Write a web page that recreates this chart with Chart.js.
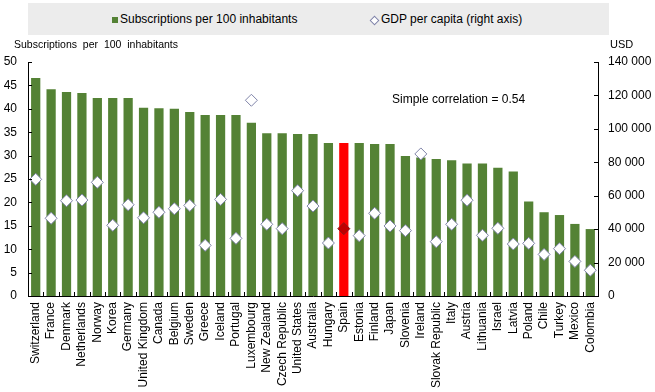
<!DOCTYPE html>
<html>
<head>
<meta charset="utf-8">
<script src="https://cdn.jsdelivr.net/npm/chart.js@4.4.0/dist/chart.umd.min.js"></script>
<style>
    body { margin: 0; background: #fff; }
    #wrap { position: relative; width: 655px; height: 392px; }
    #legend {
        position: absolute; left: 28px; top: 3px; width: 581px; height: 32px;
        background: #ececec; font: 12px "Liberation Sans", Arial, sans-serif; color: #000;
    }
    #legend span { position: absolute; top: 9px; white-space: nowrap; }
    .sq { position: absolute; left: 84px; top: 14px; width: 6px; height: 6px; background: #548235; }
    .dm { position: absolute; left: 343px; top: 14px; width: 5px; height: 5px; border: 1px solid #7f83a8; transform: rotate(45deg); background: #fff; }
</style>
</head>
<body>
<div id="wrap">
    <canvas id="chart" width="655" height="392"></canvas>
    <div id="legend">
        <div class="sq"></div><span style="left:92px">Subscriptions per 100 inhabitants</span>
        <div class="dm"></div><span style="left:353px">GDP per capita (right axis)</span>
    </div>
</div>
<script>
const countries = ['Switzerland', 'France', 'Denmark', 'Netherlands', 'Norway', 'Korea', 'Germany', 'United Kingdom',
    'Canada', 'Belgium', 'Sweden', 'Greece', 'Iceland', 'Portugal', 'Luxembourg', 'New Zealand', 'Czech Republic',
    'United States', 'Australia', 'Hungary', 'Spain', 'Estonia', 'Finland', 'Japan', 'Slovenia', 'Ireland',
    'Slovak Republic', 'Italy', 'Austria', 'Lithuania', 'Israel', 'Latvia', 'Poland', 'Chile', 'Turkey', 'Mexico', 'Colombia']

// subscriptions per 100 inhabitants (left axis)
const subs = [46.6, 44.2, 43.6, 43.4, 42.3, 42.3, 42.3, 40.2, 40.1, 40.0, 39.3, 38.7, 38.7, 38.7, 37.0, 34.8, 34.8,
    34.6, 34.6, 32.7, 32.7, 32.7, 32.5, 32.5, 29.9, 29.6, 29.3, 29.0, 28.3, 28.3, 27.4, 26.6, 20.2, 17.9, 17.3, 15.4, 14.3]

// GDP per capita, USD (right axis)
const gdp = [69800, 46500, 57000, 57400, 68000, 42300, 54600, 46800, 50100, 52200, 54200, 30300, 57800, 34500, 117100,
    42900, 40300, 63000, 53800, 31700, 40300, 36100, 49500, 41900, 39100, 85000, 32500, 42900, 57300, 36300, 40500,
    31100, 31500, 24900, 28300, 20700, 15400]

const highlight = 'Spain'
const green = '#548235'
const font = '"Liberation Sans", Arial, sans-serif'

const barColors = countries.map(c => c === highlight ? '#ff0000' : green)
const ptFill = countries.map(c => c === highlight ? '#c00000' : '#ffffff')
const ptBorder = countries.map(c => c === highlight ? '#8b1a1a' : '#7f83a8')

const spaced = v => String(v).replace(/\B(?=(\d{3})+(?!\d))/g, ' ')

// ticks pointing into the plot, plus axis titles and the note
const extras = {
    id: 'extras',
    afterDraw(chart) {
        const ctx = chart.ctx
        const a = chart.chartArea
        const x = chart.scales.x, y = chart.scales.y, y2 = chart.scales.y2
        ctx.save()
        ctx.strokeStyle = '#000'
        ctx.lineWidth = 1
        ctx.beginPath()
        y.ticks.forEach(t => {
            const py = Math.round(y.getPixelForValue(t.value)) + 0.5
            ctx.moveTo(a.left, py); ctx.lineTo(a.left + 4, py)
        })
        y2.ticks.forEach(t => {
            const py = Math.round(y2.getPixelForValue(t.value)) + 0.5
            ctx.moveTo(a.right, py); ctx.lineTo(a.right - 4, py)
        })
        const step = x.getPixelForTick(1) - x.getPixelForTick(0)
        for (let i = 1; i < countries.length; i++) {
            const px = Math.round(x.getPixelForTick(i) - step / 2) + 0.5
            ctx.moveTo(px, a.bottom); ctx.lineTo(px, a.bottom - 4)
        }
        ctx.stroke()

        ctx.fillStyle = '#000'
        ctx.textBaseline = 'middle'
        ctx.font = '10.5px ' + font
        ctx.fillText('Subscriptions  per  100  inhabitants', 14, 45)
        ctx.font = '11px ' + font
        ctx.fillText('USD', 610, 45)
        ctx.font = '12px ' + font
        ctx.fillText('Simple correlation = 0.54', 392, 100)
        ctx.restore()
    }
}

new Chart(document.getElementById('chart'), {
    data: {
        labels: countries,
        datasets: [{
            type: 'line',
            label: 'GDP per capita (right axis)',
            data: gdp,
            yAxisID: 'y2',
            showLine: false,
            pointStyle: 'rectRot',
            pointRadius: 6,
            pointBackgroundColor: ptFill,
            pointBorderColor: ptBorder,
            pointBorderWidth: 1,
            order: 0
        }, {
            type: 'bar',
            label: 'Subscriptions per 100 inhabitants',
            data: subs,
            yAxisID: 'y',
            backgroundColor: barColors,
            barPercentage: 0.6,
            categoryPercentage: 1,
            order: 1
        }]
    },
    options: {
        responsive: false,
        animation: false,
        layout: { padding: { top: 62, left: 0, right: 0, bottom: 0 } },
        plugins: {
            legend: { display: false },
            tooltip: { enabled: false }
        },
        scales: {
            x: {
                offset: true,
                grid: { display: false, drawTicks: false },
                border: { color: '#000' },
                ticks: {
                    autoSkip: false, minRotation: 90, maxRotation: 90, padding: 6,
                    color: '#000', font: { family: font, size: 12 }
                },
                afterFit(s) { s.height = 96 }
            },
            y: {
                position: 'left',
                min: 0, max: 50,
                grid: { display: false, drawTicks: false },
                border: { color: '#000' },
                ticks: { stepSize: 5, padding: 11, color: '#000', font: { family: font, size: 12 } },
                afterFit(s) { s.width = 28 }
            },
            y2: {
                position: 'right',
                min: 0, max: 140000,
                grid: { display: false, drawTicks: false },
                border: { color: '#000' },
                ticks: {
                    stepSize: 20000, padding: 10, color: '#000', font: { family: font, size: 12 },
                    callback: v => spaced(v)
                },
                afterFit(s) { s.width = 57 }
            }
        }
    },
    plugins: [extras]
})
</script>
</body>
</html>
